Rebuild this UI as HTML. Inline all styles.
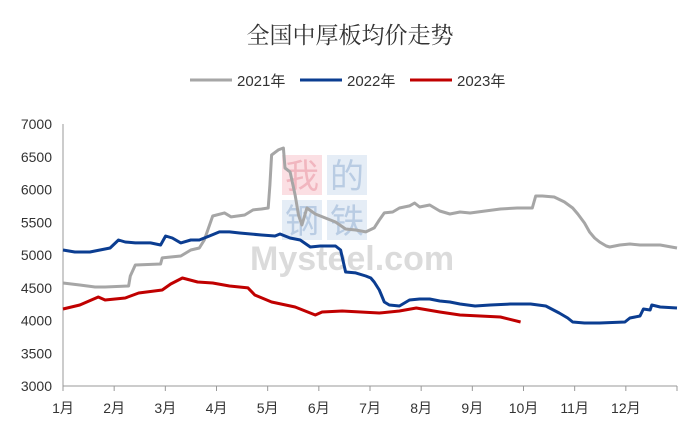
<!DOCTYPE html>
<html><head><meta charset="utf-8"><style>
body{margin:0;background:#fff;}
svg text{font-family:"Liberation Sans","Noto Sans CJK SC",sans-serif;}
</style></head><body>
<svg id="chart" width="700" height="436" xmlns="http://www.w3.org/2000/svg">
<text x="350" y="43" text-anchor="middle" font-size="23" fill="#333" style="font-family:'Noto Serif CJK SC','Liberation Serif',serif">全国中厚板均价走势</text>
<g>
<g><line x1="190" y1="80" x2="232" y2="80" stroke="#a6a6a6" stroke-width="3"/><text x="237" y="86" font-size="15" fill="#333">2021年</text></g>
<g><line x1="300" y1="80" x2="342" y2="80" stroke="#0b3d91" stroke-width="3"/><text x="347" y="86" font-size="15" fill="#333">2022年</text></g>
<g><line x1="410" y1="80" x2="452" y2="80" stroke="#c00000" stroke-width="3"/><text x="457" y="86" font-size="15" fill="#333">2023年</text></g>
</g>
<g opacity="0.35">
<rect x="282" y="155" width="40" height="40" fill="#f4a6b0"/><rect x="327" y="155" width="40" height="40" fill="#b7cde6"/>
<rect x="282" y="200" width="40" height="40" fill="#b7cde6"/><rect x="327" y="200" width="40" height="40" fill="#b7cde6"/>
<text x="302" y="188" font-size="34" text-anchor="middle" fill="#d9304a">我</text><text x="347" y="188" font-size="34" text-anchor="middle" fill="#3a6fb0">的</text>
<text x="302" y="233" font-size="34" text-anchor="middle" fill="#3a6fb0">钢</text><text x="347" y="233" font-size="34" text-anchor="middle" fill="#3a6fb0">铁</text>
<text x="250" y="270" font-size="34" font-weight="bold" fill="#999">Mysteel.com</text>
</g>
<g id="axes"></g>
<g id="series"></g>
</svg>
<script>
const yTicks=[3000,3500,4000,4500,5000,5500,6000,6500,7000];
const months=["1月","2月","3月","4月","5月","6月","7月","8月","9月","10月","11月","12月"];
const days2021=[0,10,19,25,39,40,43,58,59,64,70,76,81,84,89,96,100,108,113,118,122,123,124,128,131,132,135,138,140,142,145,150,156,162,168,174,180,185,188,191,196,200,206,209,212,218,224,230,236,242,251,260,270,279,281,285,292,298,303,306,310,313,316,319,323,325,331,337,343,355,365];
const vals2021=[4573,4542,4512,4512,4527,4680,4848,4863,4955,4970,4985,5077,5107,5229,5596,5642,5581,5611,5688,5703,5718,6069,6527,6604,6634,6329,6268,5917,5611,5458,5718,5626,5565,5504,5397,5382,5352,5413,5535,5642,5657,5718,5749,5794,5733,5764,5672,5626,5657,5641,5672,5703,5718,5718,5901,5901,5886,5810,5718,5626,5489,5352,5260,5199,5138,5122,5153,5168,5153,5153,5107];
const days2022=[0,7,16,22,28,33,37,43,52,58,61,65,70,76,81,87,93,99,105,118,126,129,135,141,147,153,162,165,168,174,180,183,185,188,191,194,200,206,212,218,224,230,236,245,254,266,278,287,295,300,303,310,319,334,337,343,345,349,350,355,365];
const vals2022=[5077,5046,5046,5077,5107,5229,5199,5184,5184,5153,5290,5260,5184,5229,5229,5290,5352,5352,5336,5305,5290,5321,5260,5229,5122,5138,5138,5077,4741,4726,4680,4649,4588,4466,4283,4237,4222,4313,4328,4328,4298,4283,4252,4222,4237,4252,4252,4222,4115,4038,3977,3962,3962,3977,4038,4069,4176,4161,4237,4206,4191];
const days2023=[0,10,21,25,37,45,59,64,71,80,89,99,110,114,124,138,150,154,166,177,188,200,210,224,236,248,260,272];
const vals2023=[4176,4237,4359,4313,4344,4420,4466,4558,4649,4588,4573,4527,4497,4390,4283,4206,4084,4130,4145,4130,4115,4145,4191,4130,4084,4069,4054,3977];
const NS="http://www.w3.org/2000/svg";
const X0=63,X1=677,Y0=386,Y1=124;
const xDay=d=>X0+d/365*(X1-X0);
const yVal=v=>Y0-(v-3000)/4000*(Y0-Y1);
const axes=document.getElementById('axes'),series=document.getElementById('series');
function mk(tag,attrs,parent){const e=document.createElementNS(NS,tag);for(const k in attrs)e.setAttribute(k,attrs[k]);parent.appendChild(e);return e;}
yTicks.forEach(v=>{
  const t=mk('text',{x:52,y:yVal(v)+5,'text-anchor':'end','font-size':14,fill:'#333'},axes);t.textContent=v;
  
  
});
const ya=mk('line',{x1:X0,y1:Y1,x2:X0,y2:Y0,stroke:'#999','stroke-width':1},axes);


const xa=mk('line',{x1:X0,y1:Y0,x2:X1,y2:Y0,stroke:'#999','stroke-width':1},axes);


months.forEach((m,i)=>{
  const x=X0+i*(X1-X0)/12;
  mk('line',{x1:x,y1:Y0,x2:x,y2:Y0+5,stroke:'#999'},axes);
  const t=mk('text',{x:x,y:413,'text-anchor':'middle','font-size':14,fill:'#333'},axes);t.textContent=m;
  
  
});
mk('line',{x1:X1,y1:Y0,x2:X1,y2:Y0+5,stroke:'#999'},axes);
function line(days,vals,color,name){
  const d=days.map((dd,i)=>(i?'L':'M')+xDay(dd).toFixed(1)+','+yVal(vals[i]).toFixed(1)).join('');
  const p=mk('path',{d:d,fill:'none',stroke:color,'stroke-width':3,'stroke-linejoin':'round'},series);
  
  
}
line(days2021,vals2021,'#a6a6a6','line-2021');
line(days2022,vals2022,'#0b3d91','line-2022');
line(days2023,vals2023,'#c00000','line-2023');
</script>
</body></html>
